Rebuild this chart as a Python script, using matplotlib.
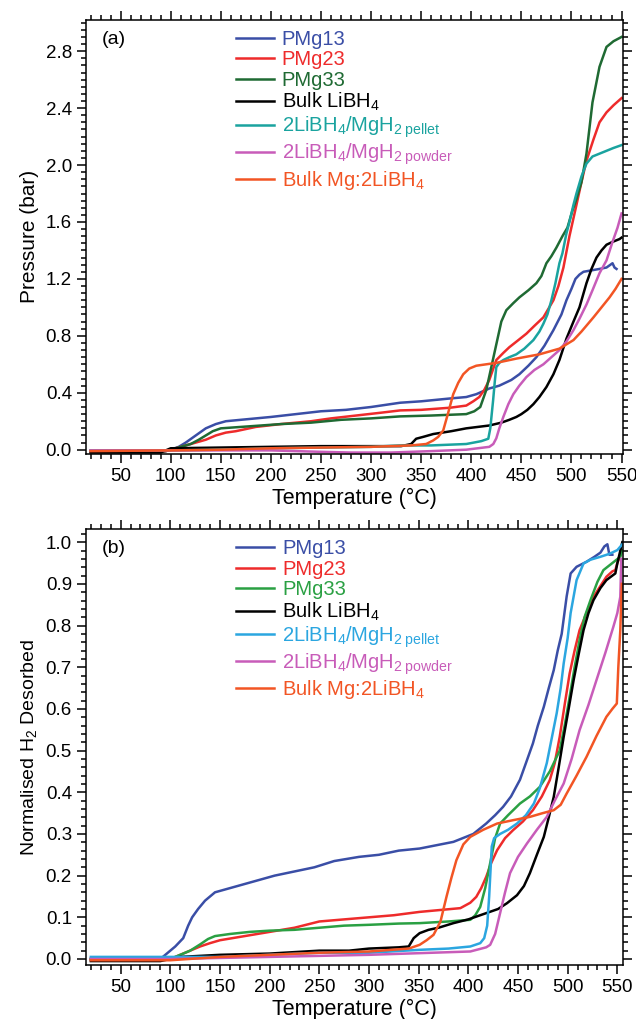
import matplotlib
matplotlib.use("Agg")
import matplotlib.pyplot as plt
from matplotlib.ticker import MultipleLocator

plt.rcParams['font.family'] = ['Liberation Sans', 'DejaVu Sans']
plt.rcParams['mathtext.fontset'] = 'custom'
plt.rcParams['mathtext.rm'] = 'Liberation Sans'
plt.rcParams['mathtext.it'] = 'Liberation Sans:italic'
plt.rcParams['mathtext.default'] = 'regular'

labels = ['PMg13', 'PMg23', 'PMg33', 'Bulk LiBH$_4$',
          r'2LiBH$_4$/MgH$_{2\;\mathrm{pellet}}$',
          r'2LiBH$_4$/MgH$_{2\;\mathrm{powder}}$',
          'Bulk Mg:2LiBH$_4$']

# ---- panel (a): pressure (bar) vs temperature
a_pmg13_t = [20, 95, 100, 108, 115, 125, 135, 145, 155, 170, 185, 200, 225, 250, 275, 300, 329, 350, 379, 395, 405,
             418, 428, 440, 448, 457, 465, 473, 482, 490, 495, 500, 504, 508, 512, 520, 528, 535, 541, 543, 545]
a_pmg13_p = [-0.01, -0.01, 0.0, 0.02, 0.05, 0.1, 0.15, 0.18, 0.2, 0.21, 0.22, 0.23, 0.25, 0.27, 0.28, 0.3, 0.33, 0.34,
             0.36, 0.37, 0.39, 0.43, 0.45, 0.49, 0.53, 0.59, 0.65, 0.73, 0.84, 0.95, 1.05, 1.13, 1.2, 1.23, 1.25, 1.26,
             1.27, 1.28, 1.31, 1.28, 1.27]
a_pmg23_t = [20, 95, 105, 115, 125, 135, 145, 155, 165, 185, 210, 240, 260, 285, 310, 329, 350, 379, 395, 402, 408,
             413, 418, 425, 432, 438, 447, 455, 463, 472, 482, 487, 492, 498, 505, 510, 515, 522, 528, 535, 542, 550]
a_pmg23_p = [-0.01, -0.01, 0.01, 0.03, 0.05, 0.07, 0.1, 0.12, 0.13, 0.16, 0.18, 0.2, 0.22, 0.24, 0.26, 0.276, 0.28,
             0.295, 0.31, 0.34, 0.37, 0.42, 0.49, 0.63, 0.68, 0.72, 0.77, 0.815, 0.87, 0.93, 1.05, 1.15, 1.28, 1.5,
             1.72, 1.88, 2.03, 2.18, 2.3, 2.37, 2.42, 2.47]
a_pmg33_t = [20, 95, 100, 110, 120, 128, 135, 142, 150, 170, 190, 210, 240, 270, 300, 329, 360, 395, 403, 409, 415,
             420, 425, 430, 435, 442, 448, 457, 465, 470, 475, 480, 485, 491, 496, 501, 505, 510, 515, 521, 528, 535,
             542, 550]
a_pmg33_p = [-0.01, -0.01, 0.0, 0.02, 0.04, 0.07, 0.1, 0.13, 0.15, 0.16, 0.17, 0.18, 0.19, 0.21, 0.22, 0.234, 0.24,
             0.25, 0.27, 0.3, 0.42, 0.58, 0.74, 0.9, 0.98, 1.03, 1.07, 1.12, 1.17, 1.22, 1.31, 1.36, 1.42, 1.5, 1.56,
             1.68, 1.76, 1.88, 2.08, 2.44, 2.69, 2.83, 2.87, 2.9]
a_bulk_t = [20, 90, 100, 150, 200, 250, 300, 330, 340, 345, 352, 362, 380, 395, 418, 430, 438, 445, 450, 456, 462,
            468, 475, 482, 488, 495, 502, 508, 515, 520, 525, 530, 535, 541, 548, 550]
a_bulk_p = [-0.02, -0.02, 0.01, 0.015, 0.02, 0.025, 0.025, 0.025, 0.04, 0.077, 0.09, 0.11, 0.13, 0.15, 0.17, 0.19,
            0.21, 0.23, 0.25, 0.28, 0.32, 0.37, 0.44, 0.53, 0.63, 0.78, 0.9, 1.0, 1.17, 1.27, 1.35, 1.4, 1.44, 1.46,
            1.48, 1.49]
a_pellet_t = [20, 100, 150, 200, 250, 300, 329, 360, 395, 410, 417, 419, 421.8, 423.5, 425, 428, 432, 438, 445, 453,
              462, 468, 472, 476, 480, 484, 488, 491, 495, 498, 502, 505, 510, 515, 521, 528, 535, 542, 550]
a_pellet_p = [-0.005, -0.005, 0.0, 0.01, 0.015, 0.02, 0.03, 0.03, 0.04, 0.06, 0.077, 0.15, 0.346, 0.48, 0.58, 0.61,
              0.63, 0.65, 0.67, 0.71, 0.77, 0.83, 0.885, 0.95, 1.05, 1.17, 1.31, 1.38, 1.52, 1.6, 1.72, 1.8, 1.92, 2.01,
              2.06, 2.08, 2.1, 2.12, 2.14]
a_powder_t = [20, 100, 200, 250, 280, 320, 360, 395, 418, 422, 425, 428, 432, 437, 442, 448, 455, 463, 472, 480, 488,
              495, 502, 508, 515, 521, 528, 535, 541, 546, 550]
a_powder_p = [-0.005, -0.005, -0.005, -0.015, -0.02, -0.02, -0.01, 0.0, 0.02, 0.04, 0.08, 0.15, 0.23, 0.32, 0.39,
              0.45, 0.51, 0.56, 0.6, 0.65, 0.7, 0.76, 0.84, 0.92, 1.02, 1.12, 1.24, 1.33, 1.46, 1.56, 1.66]
a_mg_t = [20, 100, 150, 200, 250, 300, 340, 355, 362, 367, 372, 377, 382, 387, 392, 398, 405, 415, 425, 445, 468, 488,
          495, 502, 510, 516, 522, 530, 538, 544, 550]
a_mg_p = [-0.01, -0.005, 0.0, 0.01, 0.015, 0.02, 0.03, 0.04, 0.065, 0.09, 0.135, 0.26, 0.39, 0.47, 0.53, 0.57, 0.59,
          0.6, 0.61, 0.64, 0.67, 0.71, 0.74, 0.77, 0.83, 0.88, 0.93, 1.0, 1.07, 1.13, 1.2]

# ---- panel (b): normalised H2 desorbed vs temperature
b_pmg13_t = [20, 90, 95, 100, 105, 113, 118, 122, 128, 135, 145, 160, 175, 190, 205, 225, 245, 265, 290, 310, 330,
             351, 385, 405, 418, 427, 435, 443, 452, 458, 465, 470, 476, 481, 486, 490, 494, 499, 503, 509, 519, 527,
             533, 537, 540, 542, 545]
b_pmg13_v = [0.0, 0.0, 0.01, 0.02, 0.03, 0.05, 0.08, 0.1, 0.12, 0.14, 0.16, 0.17, 0.18, 0.19, 0.2, 0.21, 0.22, 0.235,
             0.245, 0.25, 0.26, 0.265, 0.281, 0.3, 0.325, 0.345, 0.365, 0.39, 0.43, 0.47, 0.517, 0.56, 0.605, 0.65,
             0.693, 0.74, 0.78, 0.87, 0.925, 0.941, 0.953, 0.965, 0.975, 0.99, 0.995, 0.97, 0.97]
b_pmg23_t = [20, 100, 110, 120, 130, 140, 150, 175, 200, 225, 250, 275, 300, 325, 351, 392, 402, 408, 413, 418, 423,
             429, 437, 445, 455, 465, 474, 482, 487, 492, 497, 502, 507, 512, 519, 526, 533, 539, 545, 548, 550, 555]
b_pmg23_v = [0.0, 0.0, 0.01, 0.02, 0.03, 0.038, 0.045, 0.055, 0.065, 0.075, 0.09, 0.095, 0.1, 0.105, 0.113, 0.122,
             0.135, 0.149, 0.17, 0.197, 0.23, 0.261, 0.29, 0.309, 0.33, 0.357, 0.39, 0.429, 0.47, 0.533, 0.61, 0.685,
             0.74, 0.789, 0.83, 0.869, 0.895, 0.917, 0.93, 0.933, 0.95, 0.98]
b_pmg33_t = [20, 100, 110, 120, 130, 138, 145, 160, 180, 200, 225, 250, 275, 300, 330, 351, 380, 402, 407, 412, 417,
             422, 427, 432, 440, 452, 462, 472, 482, 492, 497, 502, 507, 512, 517, 523, 530, 536, 545, 553, 555]
b_pmg33_v = [0.0, 0.0, 0.01, 0.02, 0.035, 0.048, 0.055, 0.06, 0.065, 0.068, 0.07, 0.075, 0.08, 0.082, 0.085, 0.086,
             0.09, 0.094, 0.105, 0.125, 0.17, 0.23, 0.29, 0.325, 0.345, 0.373, 0.39, 0.413, 0.45, 0.5, 0.56, 0.629,
             0.7, 0.765, 0.82, 0.861, 0.905, 0.933, 0.95, 0.965, 0.98]
b_bulk_t = [20, 90, 110, 150, 200, 250, 280, 300, 330, 340, 345, 351, 360, 370, 385, 400, 418, 430, 439, 449, 456,
            462, 469, 476, 481, 486, 491, 496, 501, 506, 511, 516, 521, 526, 533, 539, 544, 548, 550, 555]
b_bulk_v = [-0.005, -0.005, 0.005, 0.01, 0.013, 0.02, 0.02, 0.025, 0.028, 0.03, 0.05, 0.062, 0.07, 0.075, 0.086,
            0.095, 0.11, 0.12, 0.134, 0.153, 0.175, 0.206, 0.25, 0.293, 0.34, 0.389, 0.46, 0.533, 0.6, 0.669, 0.73,
            0.789, 0.83, 0.861, 0.89, 0.909, 0.918, 0.925, 0.949, 1.0]
b_pellet_t = [20, 100, 150, 200, 250, 300, 351, 380, 402, 412, 416, 419, 421, 423.6, 426, 432, 440, 449, 458, 466,
              472, 479, 484, 489, 493, 496, 500, 503, 509, 516, 523, 533, 542, 550, 555]
b_pellet_v = [0.005, 0.005, 0.005, 0.01, 0.015, 0.015, 0.022, 0.025, 0.03, 0.038, 0.05, 0.08, 0.15, 0.27, 0.29, 0.3,
              0.31, 0.325, 0.345, 0.373, 0.41, 0.47, 0.53, 0.59, 0.65, 0.709, 0.77, 0.83, 0.909, 0.949, 0.958, 0.965,
              0.972, 0.981, 0.995]
b_powder_t = [20, 100, 200, 300, 351, 402, 418, 422, 427, 432, 437, 442, 450, 459, 469, 479, 487, 496, 504, 512, 521,
              529, 538, 546, 550, 553, 554]
b_powder_v = [0.0, 0.0, 0.005, 0.01, 0.014, 0.018, 0.028, 0.034, 0.06, 0.11, 0.16, 0.206, 0.245, 0.277, 0.31, 0.341,
              0.38, 0.421, 0.48, 0.549, 0.61, 0.669, 0.735, 0.797, 0.83, 0.869, 0.96]
b_mg_t = [20, 100, 150, 200, 250, 300, 340, 351, 358, 365, 372, 378, 383, 388, 395, 402, 415, 429, 445, 462, 475, 486,
          493, 499, 509, 519, 529, 539, 545, 549.5, 551, 553, 554.5]
b_mg_v = [-0.003, -0.003, 0.005, 0.01, 0.015, 0.018, 0.025, 0.034, 0.045, 0.058, 0.09, 0.149, 0.195, 0.237, 0.275,
          0.293, 0.31, 0.325, 0.333, 0.341, 0.35, 0.357, 0.37, 0.397, 0.44, 0.485, 0.535, 0.581, 0.6, 0.613, 0.7,
          0.789, 0.9]

colors_a = ['#3a4ea6', '#ee2b2b', '#1f6a33', '#000000', '#1aa39f', '#c85cb9', '#f25524']
colors_b = ['#3a4ea6', '#ee2b2b', '#2aa043', '#000000', '#2ba6e0', '#c85cb9', '#f25524']

series_a = [(a_pmg13_t, a_pmg13_p), (a_pmg23_t, a_pmg23_p), (a_pmg33_t, a_pmg33_p), (a_bulk_t, a_bulk_p),
            (a_pellet_t, a_pellet_p), (a_powder_t, a_powder_p), (a_mg_t, a_mg_p)]
series_b = [(b_pmg13_t, b_pmg13_v), (b_pmg23_t, b_pmg23_v), (b_pmg33_t, b_pmg33_v), (b_bulk_t, b_bulk_v),
            (b_pellet_t, b_pellet_v), (b_powder_t, b_powder_v), (b_mg_t, b_mg_v)]

fig = plt.figure(figsize=(6.36, 10.19), dpi=100)
ax_a = fig.add_axes([0.135, 0.5545, 0.8443, 0.426])
ax_b = fig.add_axes([0.135, 0.0530, 0.8450, 0.4276])


def style_axes(ax, ymajor, yminor):
    ax.xaxis.set_major_locator(MultipleLocator(50))
    ax.xaxis.set_minor_locator(MultipleLocator(10))
    ax.yaxis.set_major_locator(MultipleLocator(ymajor))
    ax.yaxis.set_minor_locator(MultipleLocator(yminor))
    ax.tick_params(which='both', direction='out', top=True, right=True, labelsize=13.5, width=1.1)
    ax.tick_params(which='major', length=6.5)
    ax.tick_params(which='minor', length=3.5)
    for s in ax.spines.values():
        s.set_linewidth(1.1)
    ax.set_xlabel('Temperature (°C)', fontsize=15.5, labelpad=2)


for (t, v), c, lab in zip(series_a, colors_a, labels):
    ax_a.plot(t, v, color=c, lw=1.8, label=lab)
for (t, v), c, lab in zip(series_b, colors_b, labels):
    ax_b.plot(t, v, color=c, lw=1.8, label=lab)

ax_a.set_xlim(15.3, 551.3)
ax_a.set_ylim(-0.03, 3.02)
style_axes(ax_a, 0.4, 0.05)
ax_a.set_ylabel('Pressure (bar)', fontsize=15, labelpad=5)
ax_a.text(0.03, 0.955, '(a)', transform=ax_a.transAxes, fontsize=14, va='center', ha='left')

ax_b.set_xlim(15.0, 556.0)
ax_b.set_ylim(-0.0144, 1.031)
style_axes(ax_b, 0.1, 0.02)
ax_b.set_ylabel('Normalised H$_2$ Desorbed', fontsize=14, labelpad=5)
ax_b.text(0.03, 0.955, '(b)', transform=ax_b.transAxes, fontsize=14, va='center', ha='left')

for ax in (ax_a, ax_b):
    ax.legend(loc='upper left', bbox_to_anchor=(0.26, 1.0), frameon=False, fontsize=14.5,
              labelcolor='linecolor', handlelength=1.9, handletextpad=0.4, labelspacing=0.07,
              borderpad=0.3, borderaxespad=0.2)

fig.savefig('out.png', dpi=100)
